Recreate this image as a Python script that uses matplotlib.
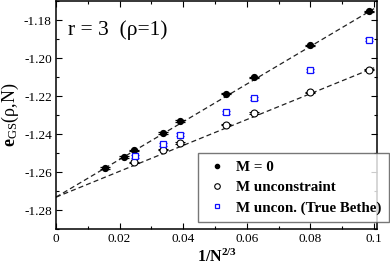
import matplotlib
matplotlib.use("Agg")
import matplotlib.pyplot as plt
import numpy as np
from matplotlib.lines import Line2D

plt.rcParams['font.family'] = ['Liberation Serif', 'DejaVu Serif']
plt.rcParams['mathtext.fontset'] = 'custom'
plt.rcParams['mathtext.rm'] = 'Liberation Serif'
plt.rcParams['mathtext.bf'] = 'Liberation Serif:bold'
plt.rcParams['mathtext.it'] = 'Liberation Serif:italic'
plt.rcParams['axes.unicode_minus'] = False

# ---- data ----
x_m0 = [0.0155, 0.0214, 0.0246, 0.0336, 0.0391, 0.0535, 0.0621, 0.0797, 0.0985]
e_m0 = [-1.2577, -1.2520, -1.2485, -1.2393, -1.2332, -1.2187, -1.2101, -1.1933, -1.1755]

x_unc = [0.0246, 0.0336, 0.0391, 0.0535, 0.0621, 0.0797, 0.0985]
e_unc = [-1.2548, -1.2481, -1.2446, -1.2350, -1.2288, -1.2180, -1.2061]

x_bethe = [0.0248, 0.0336, 0.0391, 0.0535, 0.0621, 0.0797, 0.0985]
e_bethe = [-1.2516, -1.2453, -1.2404, -1.2285, -1.2212, -1.2065, -1.1903]

err_m0 = 0.0004
err_unc = 0.0004
err_bethe = 0.0008

fit_intercept = -1.2731
fit_slope_m0 = 0.991
fit_slope_unc = 0.680
fit_x = [0.0, 0.1]

xticks = [0, 0.02, 0.04, 0.06, 0.08, 0.1]
xtick_labels = ['0', '0.02', '0.04', '0.06', '0.08', '0.1']
yticks = [-1.28, -1.26, -1.24, -1.22, -1.20, -1.18]
ytick_labels = ['-1.28', '-1.26', '-1.24', '-1.22', '-1.20', '-1.18']

legend_labels = ['M = 0', 'M unconstraint', 'M uncon. (True Bethe)']

# ---- figure ----
fig = plt.figure(figsize=(3.9, 2.67), dpi=100)
ax = fig.add_axes([56/390, 1-229.3/267, (377.3-56)/390, (229.3-1)/267])

fx = np.array(fit_x)
ax.plot(fx, fit_intercept + fit_slope_m0*fx, ls=(0, (4, 2.5)), color='#222222', lw=0.9)
ax.plot(fx, fit_intercept + fit_slope_unc*fx, ls=(0, (4, 2.5)), color='#222222', lw=0.9)

ax.errorbar(x_m0, e_m0, yerr=err_m0, fmt='o', color='black', ms=4.2,
            capsize=3.5, elinewidth=0.9, capthick=0.9)
ax.errorbar(x_unc, e_unc, yerr=err_unc, fmt='o', mfc='white', mec='black', ecolor='black',
            ms=5, mew=0.8, capsize=3.5, elinewidth=0.9, capthick=0.9)
ax.errorbar(x_bethe, e_bethe, yerr=err_bethe, fmt='s', mfc='white', mec='#1010ff', ecolor='#1010ff',
            ms=4.2, mew=0.9, capsize=3.0, elinewidth=0.9, capthick=0.9)

ax.set_xlim(0, 0.101)
ax.set_ylim(-1.2896, -1.1706)
ax.set_xticks(xticks)
ax.set_xticklabels(xtick_labels)
ax.set_yticks(yticks)
ax.set_yticklabels(ytick_labels)
ax.set_xticks(np.arange(0.01, 0.101, 0.02), minor=True)
ax.set_yticks(np.arange(-1.29, -1.17, 0.02), minor=True)
ax.tick_params(which='both', direction='in', top=True, right=True, labelsize=9.5, pad=3, width=0.8)
ax.tick_params(which='major', length=4.3)
ax.tick_params(which='minor', length=2.2)
for s in ax.spines.values():
    s.set_linewidth(1.1)

ax.set_xlabel(r'$\mathbf{1/N^{2/3}}$', fontsize=11.5, labelpad=2.5)
ax.set_ylabel(r'$\mathbf{e}_{\mathrm{GS}}$(ρ,N)', fontsize=13, labelpad=2)

ax.text(0.037, 0.851, 'r = 3  (ρ=1)', transform=ax.transAxes, fontsize=15.5,
        va='baseline', ha='left')

handles = [Line2D([], [], marker='o', ls='none', color='black', ms=3),
           Line2D([], [], marker='o', ls='none', mfc='white', mec='black', ms=4, mew=0.8),
           Line2D([], [], marker='s', ls='none', mfc='white', mec='#1010ff', ms=3.5, mew=0.9)]
leg = fig.legend(handles, legend_labels, loc='upper left', bbox_to_anchor=(198/390, 1-153/267),
                 bbox_transform=fig.transFigure, borderaxespad=0, frameon=True, fancybox=False,
                 prop={'weight': 'bold', 'size': 10.8}, handlelength=1.5, handletextpad=0.52,
                 borderpad=0.5, labelspacing=0.45)
leg.get_frame().set_edgecolor('#555555')
leg.get_frame().set_linewidth(1.0)

fig.savefig('out.png', dpi=100)
